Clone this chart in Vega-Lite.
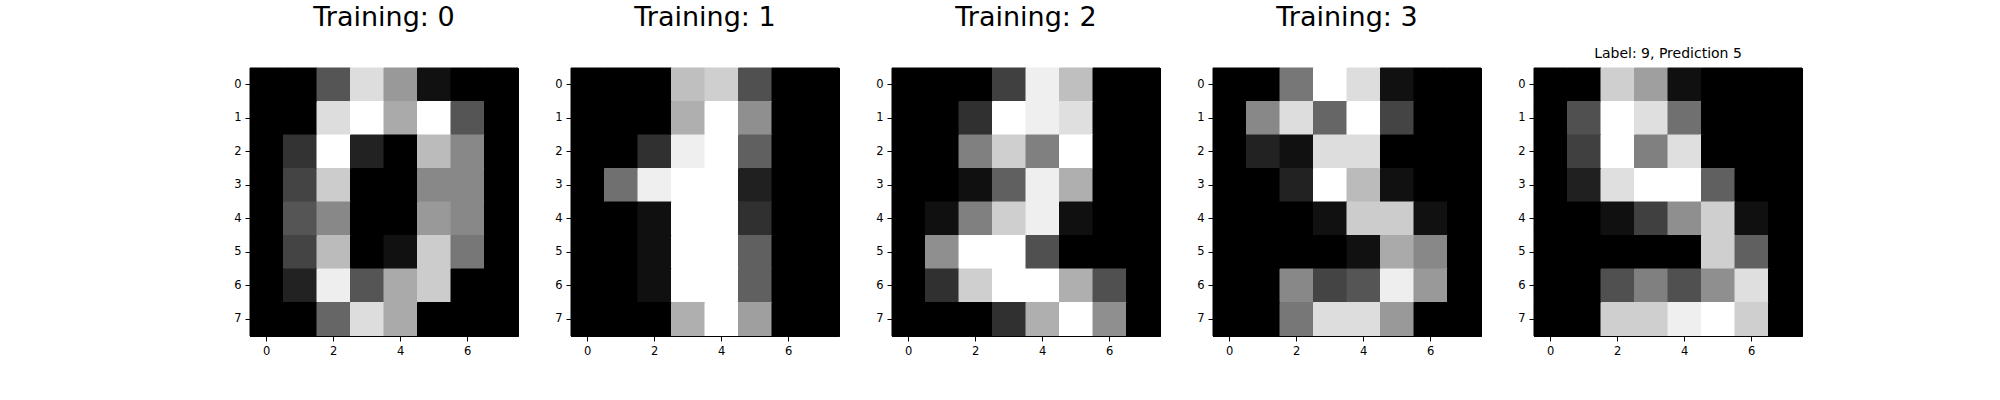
{
  "$schema": "https://vega.github.io/schema/vega-lite/v6.json",
  "padding": {"left": 233, "top": 3, "right": 5, "bottom": 5},
  "bounds": "flush",
  "spacing": 53,
  "data": {"values": [
    {"p":0,"r":0,"c":0,"v":0},{"p":0,"r":0,"c":1,"v":0},{"p":0,"r":0,"c":2,"v":5},{"p":0,"r":0,"c":3,"v":13},{"p":0,"r":0,"c":4,"v":9},{"p":0,"r":0,"c":5,"v":1},{"p":0,"r":0,"c":6,"v":0},{"p":0,"r":0,"c":7,"v":0},
    {"p":0,"r":1,"c":0,"v":0},{"p":0,"r":1,"c":1,"v":0},{"p":0,"r":1,"c":2,"v":13},{"p":0,"r":1,"c":3,"v":15},{"p":0,"r":1,"c":4,"v":10},{"p":0,"r":1,"c":5,"v":15},{"p":0,"r":1,"c":6,"v":5},{"p":0,"r":1,"c":7,"v":0},
    {"p":0,"r":2,"c":0,"v":0},{"p":0,"r":2,"c":1,"v":3},{"p":0,"r":2,"c":2,"v":15},{"p":0,"r":2,"c":3,"v":2},{"p":0,"r":2,"c":4,"v":0},{"p":0,"r":2,"c":5,"v":11},{"p":0,"r":2,"c":6,"v":8},{"p":0,"r":2,"c":7,"v":0},
    {"p":0,"r":3,"c":0,"v":0},{"p":0,"r":3,"c":1,"v":4},{"p":0,"r":3,"c":2,"v":12},{"p":0,"r":3,"c":3,"v":0},{"p":0,"r":3,"c":4,"v":0},{"p":0,"r":3,"c":5,"v":8},{"p":0,"r":3,"c":6,"v":8},{"p":0,"r":3,"c":7,"v":0},
    {"p":0,"r":4,"c":0,"v":0},{"p":0,"r":4,"c":1,"v":5},{"p":0,"r":4,"c":2,"v":8},{"p":0,"r":4,"c":3,"v":0},{"p":0,"r":4,"c":4,"v":0},{"p":0,"r":4,"c":5,"v":9},{"p":0,"r":4,"c":6,"v":8},{"p":0,"r":4,"c":7,"v":0},
    {"p":0,"r":5,"c":0,"v":0},{"p":0,"r":5,"c":1,"v":4},{"p":0,"r":5,"c":2,"v":11},{"p":0,"r":5,"c":3,"v":0},{"p":0,"r":5,"c":4,"v":1},{"p":0,"r":5,"c":5,"v":12},{"p":0,"r":5,"c":6,"v":7},{"p":0,"r":5,"c":7,"v":0},
    {"p":0,"r":6,"c":0,"v":0},{"p":0,"r":6,"c":1,"v":2},{"p":0,"r":6,"c":2,"v":14},{"p":0,"r":6,"c":3,"v":5},{"p":0,"r":6,"c":4,"v":10},{"p":0,"r":6,"c":5,"v":12},{"p":0,"r":6,"c":6,"v":0},{"p":0,"r":6,"c":7,"v":0},
    {"p":0,"r":7,"c":0,"v":0},{"p":0,"r":7,"c":1,"v":0},{"p":0,"r":7,"c":2,"v":6},{"p":0,"r":7,"c":3,"v":13},{"p":0,"r":7,"c":4,"v":10},{"p":0,"r":7,"c":5,"v":0},{"p":0,"r":7,"c":6,"v":0},{"p":0,"r":7,"c":7,"v":0},

    {"p":1,"r":0,"c":0,"v":0},{"p":1,"r":0,"c":1,"v":0},{"p":1,"r":0,"c":2,"v":0},{"p":1,"r":0,"c":3,"v":12},{"p":1,"r":0,"c":4,"v":13},{"p":1,"r":0,"c":5,"v":5},{"p":1,"r":0,"c":6,"v":0},{"p":1,"r":0,"c":7,"v":0},
    {"p":1,"r":1,"c":0,"v":0},{"p":1,"r":1,"c":1,"v":0},{"p":1,"r":1,"c":2,"v":0},{"p":1,"r":1,"c":3,"v":11},{"p":1,"r":1,"c":4,"v":16},{"p":1,"r":1,"c":5,"v":9},{"p":1,"r":1,"c":6,"v":0},{"p":1,"r":1,"c":7,"v":0},
    {"p":1,"r":2,"c":0,"v":0},{"p":1,"r":2,"c":1,"v":0},{"p":1,"r":2,"c":2,"v":3},{"p":1,"r":2,"c":3,"v":15},{"p":1,"r":2,"c":4,"v":16},{"p":1,"r":2,"c":5,"v":6},{"p":1,"r":2,"c":6,"v":0},{"p":1,"r":2,"c":7,"v":0},
    {"p":1,"r":3,"c":0,"v":0},{"p":1,"r":3,"c":1,"v":7},{"p":1,"r":3,"c":2,"v":15},{"p":1,"r":3,"c":3,"v":16},{"p":1,"r":3,"c":4,"v":16},{"p":1,"r":3,"c":5,"v":2},{"p":1,"r":3,"c":6,"v":0},{"p":1,"r":3,"c":7,"v":0},
    {"p":1,"r":4,"c":0,"v":0},{"p":1,"r":4,"c":1,"v":0},{"p":1,"r":4,"c":2,"v":1},{"p":1,"r":4,"c":3,"v":16},{"p":1,"r":4,"c":4,"v":16},{"p":1,"r":4,"c":5,"v":3},{"p":1,"r":4,"c":6,"v":0},{"p":1,"r":4,"c":7,"v":0},
    {"p":1,"r":5,"c":0,"v":0},{"p":1,"r":5,"c":1,"v":0},{"p":1,"r":5,"c":2,"v":1},{"p":1,"r":5,"c":3,"v":16},{"p":1,"r":5,"c":4,"v":16},{"p":1,"r":5,"c":5,"v":6},{"p":1,"r":5,"c":6,"v":0},{"p":1,"r":5,"c":7,"v":0},
    {"p":1,"r":6,"c":0,"v":0},{"p":1,"r":6,"c":1,"v":0},{"p":1,"r":6,"c":2,"v":1},{"p":1,"r":6,"c":3,"v":16},{"p":1,"r":6,"c":4,"v":16},{"p":1,"r":6,"c":5,"v":6},{"p":1,"r":6,"c":6,"v":0},{"p":1,"r":6,"c":7,"v":0},
    {"p":1,"r":7,"c":0,"v":0},{"p":1,"r":7,"c":1,"v":0},{"p":1,"r":7,"c":2,"v":0},{"p":1,"r":7,"c":3,"v":11},{"p":1,"r":7,"c":4,"v":16},{"p":1,"r":7,"c":5,"v":10},{"p":1,"r":7,"c":6,"v":0},{"p":1,"r":7,"c":7,"v":0},

    {"p":2,"r":0,"c":0,"v":0},{"p":2,"r":0,"c":1,"v":0},{"p":2,"r":0,"c":2,"v":0},{"p":2,"r":0,"c":3,"v":4},{"p":2,"r":0,"c":4,"v":15},{"p":2,"r":0,"c":5,"v":12},{"p":2,"r":0,"c":6,"v":0},{"p":2,"r":0,"c":7,"v":0},
    {"p":2,"r":1,"c":0,"v":0},{"p":2,"r":1,"c":1,"v":0},{"p":2,"r":1,"c":2,"v":3},{"p":2,"r":1,"c":3,"v":16},{"p":2,"r":1,"c":4,"v":15},{"p":2,"r":1,"c":5,"v":14},{"p":2,"r":1,"c":6,"v":0},{"p":2,"r":1,"c":7,"v":0},
    {"p":2,"r":2,"c":0,"v":0},{"p":2,"r":2,"c":1,"v":0},{"p":2,"r":2,"c":2,"v":8},{"p":2,"r":2,"c":3,"v":13},{"p":2,"r":2,"c":4,"v":8},{"p":2,"r":2,"c":5,"v":16},{"p":2,"r":2,"c":6,"v":0},{"p":2,"r":2,"c":7,"v":0},
    {"p":2,"r":3,"c":0,"v":0},{"p":2,"r":3,"c":1,"v":0},{"p":2,"r":3,"c":2,"v":1},{"p":2,"r":3,"c":3,"v":6},{"p":2,"r":3,"c":4,"v":15},{"p":2,"r":3,"c":5,"v":11},{"p":2,"r":3,"c":6,"v":0},{"p":2,"r":3,"c":7,"v":0},
    {"p":2,"r":4,"c":0,"v":0},{"p":2,"r":4,"c":1,"v":1},{"p":2,"r":4,"c":2,"v":8},{"p":2,"r":4,"c":3,"v":13},{"p":2,"r":4,"c":4,"v":15},{"p":2,"r":4,"c":5,"v":1},{"p":2,"r":4,"c":6,"v":0},{"p":2,"r":4,"c":7,"v":0},
    {"p":2,"r":5,"c":0,"v":0},{"p":2,"r":5,"c":1,"v":9},{"p":2,"r":5,"c":2,"v":16},{"p":2,"r":5,"c":3,"v":16},{"p":2,"r":5,"c":4,"v":5},{"p":2,"r":5,"c":5,"v":0},{"p":2,"r":5,"c":6,"v":0},{"p":2,"r":5,"c":7,"v":0},
    {"p":2,"r":6,"c":0,"v":0},{"p":2,"r":6,"c":1,"v":3},{"p":2,"r":6,"c":2,"v":13},{"p":2,"r":6,"c":3,"v":16},{"p":2,"r":6,"c":4,"v":16},{"p":2,"r":6,"c":5,"v":11},{"p":2,"r":6,"c":6,"v":5},{"p":2,"r":6,"c":7,"v":0},
    {"p":2,"r":7,"c":0,"v":0},{"p":2,"r":7,"c":1,"v":0},{"p":2,"r":7,"c":2,"v":0},{"p":2,"r":7,"c":3,"v":3},{"p":2,"r":7,"c":4,"v":11},{"p":2,"r":7,"c":5,"v":16},{"p":2,"r":7,"c":6,"v":9},{"p":2,"r":7,"c":7,"v":0},

    {"p":3,"r":0,"c":0,"v":0},{"p":3,"r":0,"c":1,"v":0},{"p":3,"r":0,"c":2,"v":7},{"p":3,"r":0,"c":3,"v":15},{"p":3,"r":0,"c":4,"v":13},{"p":3,"r":0,"c":5,"v":1},{"p":3,"r":0,"c":6,"v":0},{"p":3,"r":0,"c":7,"v":0},
    {"p":3,"r":1,"c":0,"v":0},{"p":3,"r":1,"c":1,"v":8},{"p":3,"r":1,"c":2,"v":13},{"p":3,"r":1,"c":3,"v":6},{"p":3,"r":1,"c":4,"v":15},{"p":3,"r":1,"c":5,"v":4},{"p":3,"r":1,"c":6,"v":0},{"p":3,"r":1,"c":7,"v":0},
    {"p":3,"r":2,"c":0,"v":0},{"p":3,"r":2,"c":1,"v":2},{"p":3,"r":2,"c":2,"v":1},{"p":3,"r":2,"c":3,"v":13},{"p":3,"r":2,"c":4,"v":13},{"p":3,"r":2,"c":5,"v":0},{"p":3,"r":2,"c":6,"v":0},{"p":3,"r":2,"c":7,"v":0},
    {"p":3,"r":3,"c":0,"v":0},{"p":3,"r":3,"c":1,"v":0},{"p":3,"r":3,"c":2,"v":2},{"p":3,"r":3,"c":3,"v":15},{"p":3,"r":3,"c":4,"v":11},{"p":3,"r":3,"c":5,"v":1},{"p":3,"r":3,"c":6,"v":0},{"p":3,"r":3,"c":7,"v":0},
    {"p":3,"r":4,"c":0,"v":0},{"p":3,"r":4,"c":1,"v":0},{"p":3,"r":4,"c":2,"v":0},{"p":3,"r":4,"c":3,"v":1},{"p":3,"r":4,"c":4,"v":12},{"p":3,"r":4,"c":5,"v":12},{"p":3,"r":4,"c":6,"v":1},{"p":3,"r":4,"c":7,"v":0},
    {"p":3,"r":5,"c":0,"v":0},{"p":3,"r":5,"c":1,"v":0},{"p":3,"r":5,"c":2,"v":0},{"p":3,"r":5,"c":3,"v":0},{"p":3,"r":5,"c":4,"v":1},{"p":3,"r":5,"c":5,"v":10},{"p":3,"r":5,"c":6,"v":8},{"p":3,"r":5,"c":7,"v":0},
    {"p":3,"r":6,"c":0,"v":0},{"p":3,"r":6,"c":1,"v":0},{"p":3,"r":6,"c":2,"v":8},{"p":3,"r":6,"c":3,"v":4},{"p":3,"r":6,"c":4,"v":5},{"p":3,"r":6,"c":5,"v":14},{"p":3,"r":6,"c":6,"v":9},{"p":3,"r":6,"c":7,"v":0},
    {"p":3,"r":7,"c":0,"v":0},{"p":3,"r":7,"c":1,"v":0},{"p":3,"r":7,"c":2,"v":7},{"p":3,"r":7,"c":3,"v":13},{"p":3,"r":7,"c":4,"v":13},{"p":3,"r":7,"c":5,"v":9},{"p":3,"r":7,"c":6,"v":0},{"p":3,"r":7,"c":7,"v":0},

    {"p":4,"r":0,"c":0,"v":0},{"p":4,"r":0,"c":1,"v":0},{"p":4,"r":0,"c":2,"v":13},{"p":4,"r":0,"c":3,"v":10},{"p":4,"r":0,"c":4,"v":1},{"p":4,"r":0,"c":5,"v":0},{"p":4,"r":0,"c":6,"v":0},{"p":4,"r":0,"c":7,"v":0},
    {"p":4,"r":1,"c":0,"v":0},{"p":4,"r":1,"c":1,"v":5},{"p":4,"r":1,"c":2,"v":16},{"p":4,"r":1,"c":3,"v":14},{"p":4,"r":1,"c":4,"v":7},{"p":4,"r":1,"c":5,"v":0},{"p":4,"r":1,"c":6,"v":0},{"p":4,"r":1,"c":7,"v":0},
    {"p":4,"r":2,"c":0,"v":0},{"p":4,"r":2,"c":1,"v":4},{"p":4,"r":2,"c":2,"v":16},{"p":4,"r":2,"c":3,"v":8},{"p":4,"r":2,"c":4,"v":14},{"p":4,"r":2,"c":5,"v":0},{"p":4,"r":2,"c":6,"v":0},{"p":4,"r":2,"c":7,"v":0},
    {"p":4,"r":3,"c":0,"v":0},{"p":4,"r":3,"c":1,"v":2},{"p":4,"r":3,"c":2,"v":14},{"p":4,"r":3,"c":3,"v":16},{"p":4,"r":3,"c":4,"v":16},{"p":4,"r":3,"c":5,"v":6},{"p":4,"r":3,"c":6,"v":0},{"p":4,"r":3,"c":7,"v":0},
    {"p":4,"r":4,"c":0,"v":0},{"p":4,"r":4,"c":1,"v":0},{"p":4,"r":4,"c":2,"v":1},{"p":4,"r":4,"c":3,"v":4},{"p":4,"r":4,"c":4,"v":9},{"p":4,"r":4,"c":5,"v":13},{"p":4,"r":4,"c":6,"v":1},{"p":4,"r":4,"c":7,"v":0},
    {"p":4,"r":5,"c":0,"v":0},{"p":4,"r":5,"c":1,"v":0},{"p":4,"r":5,"c":2,"v":0},{"p":4,"r":5,"c":3,"v":0},{"p":4,"r":5,"c":4,"v":0},{"p":4,"r":5,"c":5,"v":13},{"p":4,"r":5,"c":6,"v":6},{"p":4,"r":5,"c":7,"v":0},
    {"p":4,"r":6,"c":0,"v":0},{"p":4,"r":6,"c":1,"v":0},{"p":4,"r":6,"c":2,"v":5},{"p":4,"r":6,"c":3,"v":8},{"p":4,"r":6,"c":4,"v":5},{"p":4,"r":6,"c":5,"v":9},{"p":4,"r":6,"c":6,"v":14},{"p":4,"r":6,"c":7,"v":0},
    {"p":4,"r":7,"c":0,"v":0},{"p":4,"r":7,"c":1,"v":0},{"p":4,"r":7,"c":2,"v":13},{"p":4,"r":7,"c":3,"v":13},{"p":4,"r":7,"c":4,"v":15},{"p":4,"r":7,"c":5,"v":16},{"p":4,"r":7,"c":6,"v":13},{"p":4,"r":7,"c":7,"v":0}
  ]},
  "hconcat": [
    {
      "width": 268, "height": 268,
      "title": {"text": "Training: 0", "fontSize": 27, "offset": 15, "baseline": "alphabetic"},
      "transform": [{"filter": "datum.p == 0"}],
      "mark": {"type": "rect", "strokeWidth": 1},
      "encoding": {
        "x": {"field": "c", "type": "ordinal", "scale": {"paddingInner": 0, "paddingOuter": 0}, "axis": {"values": [0, 2, 4, 6], "title": null, "labelAngle": 0}},
        "y": {"field": "r", "type": "ordinal", "scale": {"paddingInner": 0, "paddingOuter": 0}, "axis": {"title": null}},
        "color": {"field": "v", "type": "quantitative", "scale": {"range": ["black", "white"], "interpolate": "rgb", "zero": true, "nice": false}, "legend": null},
        "stroke": {"field": "v", "type": "quantitative", "scale": {"range": ["black", "white"], "interpolate": "rgb", "zero": true, "nice": false}, "legend": null}
      }
    },
    {
      "width": 268, "height": 268,
      "title": {"text": "Training: 1", "fontSize": 27, "offset": 15, "baseline": "alphabetic"},
      "transform": [{"filter": "datum.p == 1"}],
      "mark": {"type": "rect", "strokeWidth": 1},
      "encoding": {
        "x": {"field": "c", "type": "ordinal", "scale": {"paddingInner": 0, "paddingOuter": 0}, "axis": {"values": [0, 2, 4, 6], "title": null, "labelAngle": 0}},
        "y": {"field": "r", "type": "ordinal", "scale": {"paddingInner": 0, "paddingOuter": 0}, "axis": {"title": null}},
        "color": {"field": "v", "type": "quantitative", "scale": {"range": ["black", "white"], "interpolate": "rgb", "zero": true, "nice": false}, "legend": null},
        "stroke": {"field": "v", "type": "quantitative", "scale": {"range": ["black", "white"], "interpolate": "rgb", "zero": true, "nice": false}, "legend": null}
      }
    },
    {
      "width": 268, "height": 268,
      "title": {"text": "Training: 2", "fontSize": 27, "offset": 15, "baseline": "alphabetic"},
      "transform": [{"filter": "datum.p == 2"}],
      "mark": {"type": "rect", "strokeWidth": 1},
      "encoding": {
        "x": {"field": "c", "type": "ordinal", "scale": {"paddingInner": 0, "paddingOuter": 0}, "axis": {"values": [0, 2, 4, 6], "title": null, "labelAngle": 0}},
        "y": {"field": "r", "type": "ordinal", "scale": {"paddingInner": 0, "paddingOuter": 0}, "axis": {"title": null}},
        "color": {"field": "v", "type": "quantitative", "scale": {"range": ["black", "white"], "interpolate": "rgb", "zero": true, "nice": false}, "legend": null},
        "stroke": {"field": "v", "type": "quantitative", "scale": {"range": ["black", "white"], "interpolate": "rgb", "zero": true, "nice": false}, "legend": null}
      }
    },
    {
      "width": 268, "height": 268,
      "title": {"text": "Training: 3", "fontSize": 27, "offset": 15, "baseline": "alphabetic"},
      "transform": [{"filter": "datum.p == 3"}],
      "mark": {"type": "rect", "strokeWidth": 1},
      "encoding": {
        "x": {"field": "c", "type": "ordinal", "scale": {"paddingInner": 0, "paddingOuter": 0}, "axis": {"values": [0, 2, 4, 6], "title": null, "labelAngle": 0}},
        "y": {"field": "r", "type": "ordinal", "scale": {"paddingInner": 0, "paddingOuter": 0}, "axis": {"title": null}},
        "color": {"field": "v", "type": "quantitative", "scale": {"range": ["black", "white"], "interpolate": "rgb", "zero": true, "nice": false}, "legend": null},
        "stroke": {"field": "v", "type": "quantitative", "scale": {"range": ["black", "white"], "interpolate": "rgb", "zero": true, "nice": false}, "legend": null}
      }
    },
    {
      "width": 268, "height": 268,
      "title": {"text": "Label: 9, Prediction 5", "fontSize": 14, "offset": -4, "baseline": "alphabetic"},
      "transform": [{"filter": "datum.p == 4"}],
      "mark": {"type": "rect", "strokeWidth": 1},
      "encoding": {
        "x": {"field": "c", "type": "ordinal", "scale": {"paddingInner": 0, "paddingOuter": 0}, "axis": {"values": [0, 2, 4, 6], "title": null, "labelAngle": 0}},
        "y": {"field": "r", "type": "ordinal", "scale": {"paddingInner": 0, "paddingOuter": 0}, "axis": {"title": null}},
        "color": {"field": "v", "type": "quantitative", "scale": {"range": ["black", "white"], "interpolate": "rgb", "zero": true, "nice": false}, "legend": null},
        "stroke": {"field": "v", "type": "quantitative", "scale": {"range": ["black", "white"], "interpolate": "rgb", "zero": true, "nice": false}, "legend": null}
      }
    }
  ],
  "resolve": {"scale": {"color": "independent", "stroke": "independent"}, "legend": {"color": "independent", "stroke": "independent"}},
  "config": {
    "font": "DejaVu Sans",
    "background": "white",
    "view": {"stroke": "black", "strokeWidth": 1, "fill": "black"},
    "title": {"font": "DejaVu Sans", "fontWeight": "normal", "color": "black", "anchor": "middle"},
    "axis": {
      "labelFont": "DejaVu Sans", "labelFontSize": 11.5, "labelColor": "black",
      "tickColor": "black", "tickSize": 5, "tickWidth": 1,
      "domainColor": "black", "domainWidth": 1,
      "labelPadding": 4, "grid": false
    }
  }
}
